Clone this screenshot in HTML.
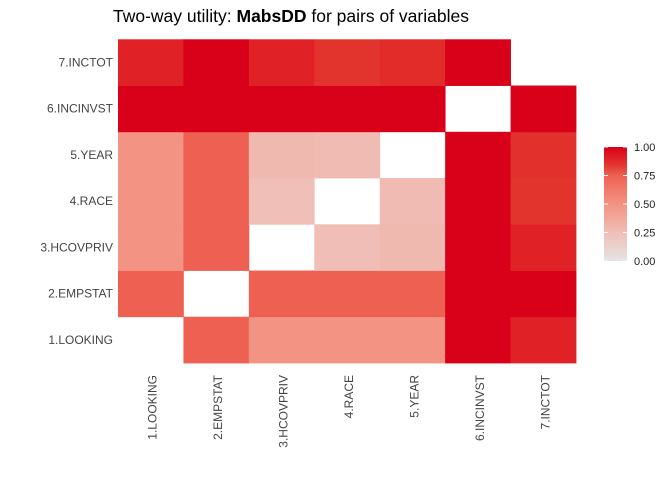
<!DOCTYPE html>
<html><head><meta charset="utf-8"><style>
html,body{margin:0;padding:0;background:#fff;}
svg text{font-family:"Liberation Sans",sans-serif;}
</style></head><body>
<svg id="chart" width="672" height="480" viewBox="0 0 672 480" xmlns="http://www.w3.org/2000/svg">
<text x="113" y="22" font-size="17.5" fill="#000">Two-way utility: <tspan font-weight="bold">MabsDD</tspan> for pairs of variables</text>
<g id="cells"></g>
<g id="ylabels"></g>
<g id="xlabels"></g>
<g id="legend"></g>
</svg>
<script>
const categories = ["1.LOOKING","2.EMPSTAT","3.HCOVPRIV","4.RACE","5.YEAR","6.INCINVST","7.INCTOT"];
// rows indexed by y category (bottom to top), columns by x category
const row1 = [null,0.75,0.5,0.5,0.5,1.0,0.9];
const row2 = [0.75,null,0.75,0.75,0.75,1.0,1.0];
const row3 = [0.5,0.75,null,0.25,0.28,1.0,0.9];
const row4 = [0.5,0.75,0.24,null,0.27,1.0,0.85];
const row5 = [0.5,0.75,0.28,0.27,null,1.0,0.86];
const row6 = [1,1,1,1,1,null,1];
const row7 = [0.9,1.0,0.9,0.85,0.87,1.0,null];
const legendTicks = [0,0.25,0.5,0.75,1.0];
const legendLabels = ["0.00","0.25","0.50","0.75","1.00"];

const rows=[row1,row2,row3,row4,row5,row6,row7];
const NS="http://www.w3.org/2000/svg";
const x0=118,x1=576,y0=39.3,y1=363;
const cw=(x1-x0)/categories.length, ch=(y1-y0)/categories.length;
const xs=i=>x0+i*cw;
const ys=j=>y1-(j+1)*ch;
const stops=[[0,[228,228,228]],[0.25,[240,190,182]],[0.5,[242,147,131]],[0.75,[238,97,82]],[0.85,[227,51,45]],[1,[217,0,25]]];
function color(v){
  for(let k=1;k<stops.length;k++){
    if(v<=stops[k][0]){
      const a=stops[k-1],b=stops[k],t=(v-a[0])/(b[0]-a[0]);
      const c=a[1].map((q,i)=>Math.round(q+(b[1][i]-q)*t));
      return `rgb(${c.join(',')})`;
    }
  }
  return "rgb(217,0,25)";
}
function mk(tag,attrs,parent){const e=document.createElementNS(NS,tag);for(const k in attrs)e.setAttribute(k,attrs[k]);parent.appendChild(e);return e;}
const gC=document.getElementById('cells');
rows.forEach((r,j)=>r.forEach((v,i)=>{
  if(v===null)return;
  const e=mk('rect',{x:xs(i),y:ys(j),width:cw+0.4,height:ch+0.4,fill:color(v)},gC);
  
  
}));
const gY=document.getElementById('ylabels');
categories.forEach((c,j)=>{
  const t=mk('text',{x:x0-5,y:ys(j)+ch/2+4,'text-anchor':'end','font-size':12,fill:'#444'},gY);
  t.textContent=c;
  
  
});
const gX=document.getElementById('xlabels');
categories.forEach((c,i)=>{
  const cx=xs(i)+cw/2+6, cy=375;
  const t=mk('text',{x:cx,y:cy,'text-anchor':'end','font-size':12,fill:'#444',transform:`rotate(-90 ${cx} ${cy})`},gX);
  t.textContent=c;
  
  
});
const gL=document.getElementById('legend');
const lx=604,ly0=147,ly1=261;
const defs=mk('defs',{},gL);
const grad=mk('linearGradient',{id:'lg',x1:0,y1:1,x2:0,y2:0},defs);
stops.forEach(s=>mk('stop',{offset:s[0],'stop-color':color(s[0])},grad));
const bar=mk('rect',{x:lx,y:ly0,width:23,height:ly1-ly0,fill:'url(#lg)'},gL);


legendTicks.forEach((v,k)=>{
  const y=ly1-v*(ly1-ly0);
  mk('line',{x1:lx,x2:lx+4,y1:y,y2:y,stroke:'#fff','stroke-width':1},gL);
  mk('line',{x1:lx+19,x2:lx+23,y1:y,y2:y,stroke:'#fff','stroke-width':1},gL);
  const t=mk('text',{x:lx+30,y:y+4,'font-size':11,fill:'#222'},gL);
  t.textContent=legendLabels[k];
  
  
});
</script>
</body></html>
